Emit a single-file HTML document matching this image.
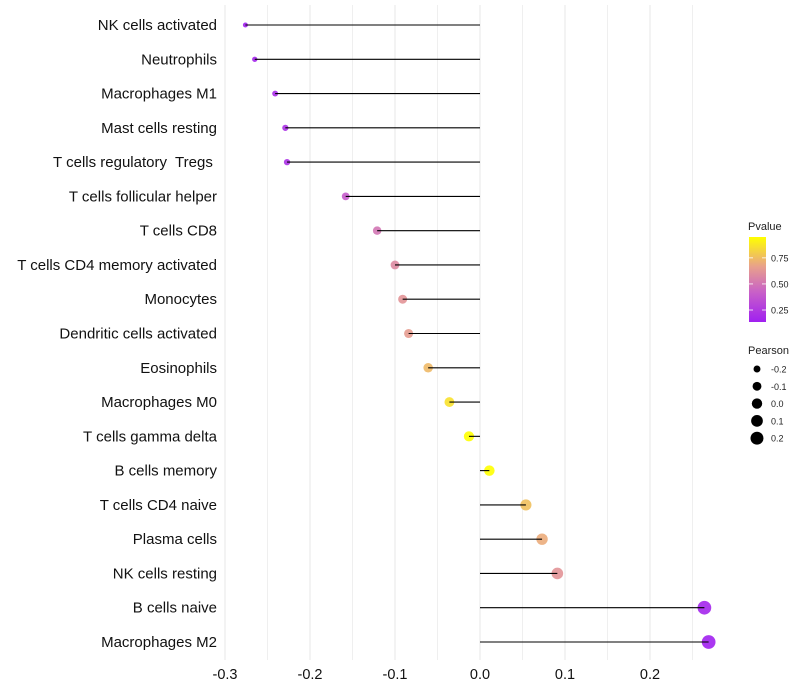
<!DOCTYPE html>
<html><head><meta charset="utf-8"><style>
body{margin:0;background:#fff;}
svg{display:block;font-family:"Liberation Sans",sans-serif;}
svg text{white-space:pre;}
</style></head><body>
<svg id="chart" width="800" height="700" viewBox="0 0 800 700"></svg>
<script>
const categories=["NK cells activated","Neutrophils","Macrophages M1","Mast cells resting","T cells regulatory  Tregs ","T cells follicular helper","T cells CD8","T cells CD4 memory activated","Monocytes","Dendritic cells activated","Eosinophils","Macrophages M0","T cells gamma delta","B cells memory","T cells CD4 naive","Plasma cells","NK cells resting","B cells naive","Macrophages M2"];
const pearson=[-0.276,-0.265,-0.241,-0.229,-0.227,-0.158,-0.121,-0.100,-0.091,-0.084,-0.061,-0.036,-0.013,0.011,0.054,0.073,0.091,0.264,0.269];
const pvalue=[0.14,0.16,0.19,0.21,0.21,0.40,0.50,0.58,0.62,0.65,0.74,0.86,0.95,0.95,0.76,0.70,0.62,0.16,0.14];
const xTicks=[-0.3,-0.2,-0.1,0.0,0.1,0.2];
const pTicks=[0.25,0.5,0.75];
const sizeTicks=[-0.2,-0.1,0.0,0.1,0.2];

const NS="http://www.w3.org/2000/svg";
const svg=document.getElementById('chart');
function mk(t,a,p){const e=document.createElementNS(NS,t);for(const k in a)e.setAttribute(k,a[k]);(p||svg).appendChild(e);return e;}
const x=v=>480+v*850;
const y=i=>25+i*(642-25)/18;
const rad=p=>Math.sqrt(Math.max(27+75*p,2));
const stops=[[0,[160,32,240]],[0.35,[200,96,200]],[0.65,[232,160,140]],[1,[255,255,0]]];
function col(p){let t=(p-0.135)/(0.95-0.135);t=Math.max(0,Math.min(1,t));
 for(let i=1;i<stops.length;i++){if(t<=stops[i][0]){const a=stops[i-1],b=stops[i];const f=(t-a[0])/(b[0]-a[0]);
 return 'rgb('+a[1].map((c,k)=>Math.round(c+(b[1][k]-c)*f)).join(',')+')';}}return 'rgb(255,255,0)';}

for(let v=-0.3;v<=0.25;v+=0.05){
 const g=mk('line',{x1:x(v),x2:x(v),y1:5,y2:660,stroke:'#ebebeb','stroke-width':Math.abs(Math.round(v*20))%2===0?1.2:0.8});
 
 
}
xTicks.forEach(v=>{
 const t=mk('text',{x:x(v),y:679,'text-anchor':'middle','font-size':14.5,fill:'#111'});
 t.textContent=v.toFixed(1);
 
 
});
categories.forEach((c,i)=>{
 const t=mk('text',{x:217,y:y(i)+5,'text-anchor':'end','font-size':15,fill:'#111'});
 t.textContent=c;
 
 
 const d=mk('circle',{cx:x(pearson[i]),cy:y(i),r:rad(pearson[i]),fill:col(pvalue[i]),'fill-opacity':0.9});
 
 
 const l=mk('line',{x1:x(0),x2:x(pearson[i]),y1:y(i),y2:y(i),stroke:'#000','stroke-width':1.1});
 
 
});
const defs=mk('defs',{});
const lg=mk('linearGradient',{id:'pg',x1:0,y1:1,x2:0,y2:0},defs);
stops.forEach(s=>mk('stop',{offset:s[0],'stop-color':'rgb('+s[1].join(',')+')'},lg));
const lt=mk('text',{x:748,y:230,'font-size':11,fill:'#222'});lt.textContent='Pvalue';


const bar=mk('rect',{x:749,y:237,width:17,height:85,fill:'url(#pg)'});


pTicks.forEach(p=>{
 const yy=322-(p-0.135)/(0.95-0.135)*85;
 mk('line',{x1:749,x2:753,y1:yy,y2:yy,stroke:'#fff','stroke-width':0.8});
 mk('line',{x1:762,x2:766,y1:yy,y2:yy,stroke:'#fff','stroke-width':0.8});
 const t=mk('text',{x:771,y:yy+3.5,'font-size':9,fill:'#222'});t.textContent=p.toFixed(2);
 
 
});
const st=mk('text',{x:748,y:354,'font-size':11,fill:'#222'});st.textContent='Pearson';


sizeTicks.forEach((s,i)=>{
 const yy=369+i*17.3;
 const c=mk('circle',{cx:757,cy:yy,r:rad(s),fill:'#000'});
 
 
 const t=mk('text',{x:771,y:yy+3.5,'font-size':9,fill:'#222'});t.textContent=s.toFixed(1);
 
 
});
</script>
</body></html>
